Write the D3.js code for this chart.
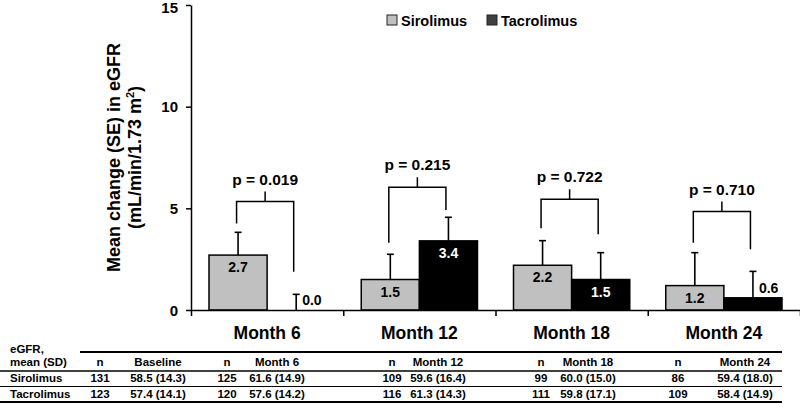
<!DOCTYPE html>
<html><head><meta charset="utf-8">
<script src="https://cdn.jsdelivr.net/npm/d3@7"></script>
<style>
html,body{margin:0;padding:0;background:#fff;}
svg{display:block;font-family:"Liberation Sans",Arial,Helvetica,sans-serif;}
</style></head>
<body>
<svg id="chart" width="800" height="419"></svg>
<script>
// ---- data ----
const months = ["Month 6", "Month 12", "Month 18", "Month 24"];
const seriesNames = ["Sirolimus", "Tacrolimus"];
const sirolimus = [2.7, 1.5, 2.2, 1.2];
const tacrolimus = [0.0, 3.4, 1.5, 0.6];
const sirolimusSE = [1.12, 1.24, 1.21, 1.62];
const tacrolimusSE = [0.77, 1.16, 1.32, 1.30];
const pValues = ["p = 0.019", "p = 0.215", "p = 0.722", "p = 0.710"];
const bracketTop = [5.33, 6.04, 5.45, 4.84];
const bracketLeftEnd = [4.26, 3.31, 4.02, 3.31];
const bracketRightEnd = [1.88, 4.92, 3.72, 2.99];
const yTicks = [0, 5, 10, 15];
const tableHeader = ["n", "Baseline", "n", "Month 6", "n", "Month 12", "n", "Month 18", "n", "Month 24"];
const tableRowNames = ["Sirolimus", "Tacrolimus"];
const sirolimusRow = ["131", "58.5 (14.3)", "125", "61.6 (14.9)", "109", "59.6 (16.4)", "99", "60.0 (15.0)", "86", "59.4 (18.0)"];
const tacrolimusRow = ["123", "57.4 (14.1)", "120", "57.6 (14.2)", "116", "61.3 (14.3)", "111", "59.8 (17.1)", "109", "58.4 (14.9)"];

// ---- layout ----
const colors = {Sirolimus: "#c0c0c0", Tacrolimus: "#000000"};
const legendColors = {Sirolimus: "#c0c0c0", Tacrolimus: "#404040"};
const tableColX = [100, 158, 227, 277, 392, 438, 541, 588, 678, 745];

const svg = d3.select("#chart");
const x0 = d3.scaleBand().domain(months).range([191, 800]).padding(0);
const x1 = d3.scaleBand().domain(seriesNames).range([18, x0.bandwidth() - 18]).padding(0);
const y = d3.scaleLinear().domain([0, 15]).range([310, 5]);

const data = months.map((m, i) => ({
  month: m,
  bars: [
    {name: "Sirolimus", v: sirolimus[i], se: sirolimusSE[i]},
    {name: "Tacrolimus", v: tacrolimus[i], se: tacrolimusSE[i]}
  ]
}));

// bars
const groups = svg.append("g").selectAll("g").data(data).join("g")
  .attr("transform", d => `translate(${x0(d.month)},0)`);

groups.selectAll("rect").data(d => d.bars).join("rect")
  .attr("x", d => x1(d.name))
  .attr("y", d => y(d.v))
  .attr("width", x1.bandwidth())
  .attr("height", d => y(0) - y(d.v))
  .attr("fill", d => colors[d.name])
  .attr("stroke", "#000")
  .attr("stroke-width", 1.5);

// error bars
groups.each(function(d) {
  const g = d3.select(this);
  d.bars.forEach(b => {
    const cx = x1(b.name) + x1.bandwidth() / 2;
    g.append("line").attr("x1", cx).attr("x2", cx)
      .attr("y1", y(b.v)).attr("y2", y(b.v + b.se))
      .attr("stroke", "#000").attr("stroke-width", 1.6);
    g.append("line").attr("x1", cx - 3.5).attr("x2", cx + 3.5)
      .attr("y1", y(b.v + b.se)).attr("y2", y(b.v + b.se))
      .attr("stroke", "#000").attr("stroke-width", 1.6);
    // value label
    const inside = b.v >= 1;
    g.append("text")
      .attr("x", inside ? cx : cx + 6)
      .attr("y", inside ? y(b.v) + 17 : y(b.v) - 5)
      .attr("text-anchor", inside ? "middle" : "start")
      .attr("font-size", 14).attr("font-weight", "bold")
      .attr("fill", inside && b.name === "Tacrolimus" ? "#fff" : "#000")
      .text(b.v.toFixed(1));
  });
});

// p-value brackets
data.forEach((d, i) => {
  const xl = x0(d.month) + x1("Sirolimus") + x1.bandwidth() / 2 - 1.5;
  const xr = x0(d.month) + x1("Tacrolimus") + x1.bandwidth() / 2 - 2.5;
  const xm = (xl + xr) / 2;
  const yt = y(bracketTop[i]);
  const path = d3.path();
  path.moveTo(xl, y(bracketLeftEnd[i]));
  path.lineTo(xl, yt);
  path.lineTo(xr, yt);
  path.lineTo(xr, y(bracketRightEnd[i]));
  path.moveTo(xm, yt);
  path.lineTo(xm, yt - 10);
  svg.append("path").attr("d", path.toString())
    .attr("fill", "none").attr("stroke", "#000").attr("stroke-width", 1.5);
  svg.append("text").attr("x", xm).attr("y", yt - 17)
    .attr("text-anchor", "middle").attr("font-size", 15.5).attr("font-weight", "bold")
    .text(pValues[i]);
});

// y axis
const yAxis = svg.append("g").attr("transform", "translate(191,0)")
  .call(d3.axisLeft(y).tickValues(yTicks).tickSize(5).tickPadding(8).tickSizeOuter(0));
yAxis.select(".domain").attr("stroke-width", 1.5);
yAxis.selectAll(".tick line").attr("stroke-width", 1.5);
yAxis.selectAll("text").attr("font-size", 15).attr("font-weight", "bold")
  .attr("font-family", "'Liberation Sans',Arial,sans-serif").attr("fill", "#000")
  .attr("dy", d => d === 15 ? "0.52em" : "0.34em");

// x axis
const xBoundaries = [x0.range()[0]].concat(months.map(m => x0(m) + x0.bandwidth()));
const xb = d3.scaleLinear().domain(x0.range()).range(x0.range());
const xAxis = svg.append("g").attr("transform", "translate(0,310)")
  .call(d3.axisBottom(xb).tickValues(xBoundaries).tickSize(6).tickFormat("").tickSizeOuter(0));
xAxis.select(".domain").attr("stroke-width", 1.5);
xAxis.selectAll(".tick line").attr("stroke-width", 1.5);

svg.append("g").selectAll("text").data(months).join("text")
  .attr("x", d => x0(d) + x0.bandwidth() / 2)
  .attr("y", 339)
  .attr("text-anchor", "middle").attr("font-size", 17.5).attr("font-weight", "bold")
  .text(d => d);

// y axis title
const yTitle = svg.append("text")
  .attr("transform", "translate(119.5,157.5) rotate(-90)")
  .attr("text-anchor", "middle").attr("font-size", 18).attr("font-weight", "bold");
yTitle.append("tspan").attr("x", 0).attr("dy", 0).text("Mean change (SE) in eGFR");
const line2 = yTitle.append("tspan").attr("x", 0).attr("dy", 21.5);
line2.append("tspan").text("(mL/min/1.73 m");
line2.append("tspan").attr("dy", -7).attr("font-size", 11).text("2");
line2.append("tspan").attr("dy", 7).text(")");

// legend
const legendX = [387, 487];
const legend = svg.append("g").selectAll("g").data(seriesNames).join("g")
  .attr("transform", (d, i) => `translate(${legendX[i]},15)`);
legend.append("rect").attr("width", 10).attr("height", 10)
  .attr("fill", d => legendColors[d]).attr("stroke", "#222").attr("stroke-width", 1);
legend.append("text").attr("x", 14).attr("y", 10.5)
  .attr("font-size", 14.5).attr("font-weight", "bold").text(d => d);

// table
const tbl = svg.append("g").attr("font-size", 11.5).attr("font-weight", "bold");
tbl.append("text").attr("x", 10).attr("y", 353).text("eGFR,");
tbl.append("text").attr("x", 10).attr("y", 366).text("mean (SD)");
tbl.selectAll(".hdr").data(tableHeader).join("text").attr("class", "hdr")
  .attr("x", (d, i) => tableColX[i]).attr("y", 366).attr("text-anchor", "middle").text(d => d);
const rows = [sirolimusRow, tacrolimusRow];
const rowY = [382, 397.5];
rows.forEach((r, ri) => {
  tbl.append("text").attr("x", 10).attr("y", rowY[ri]).text(tableRowNames[ri]);
  tbl.selectAll(".r" + ri).data(r).join("text").attr("class", "r" + ri)
    .attr("x", (d, i) => tableColX[i]).attr("y", rowY[ri]).attr("text-anchor", "middle").text(d => d);
});
const lines = [
  {x1: 80, y: 352, w: 2},
  {x1: 0, y: 371, w: 1.5},
  {x1: 0, y: 386.5, w: 1},
  {x1: 0, y: 402, w: 2}
];
svg.append("g").selectAll("line").data(lines).join("line")
  .attr("x1", d => d.x1).attr("x2", 782).attr("y1", d => d.y).attr("y2", d => d.y)
  .attr("stroke", "#000").attr("stroke-width", d => d.w);
</script>
</body></html>
